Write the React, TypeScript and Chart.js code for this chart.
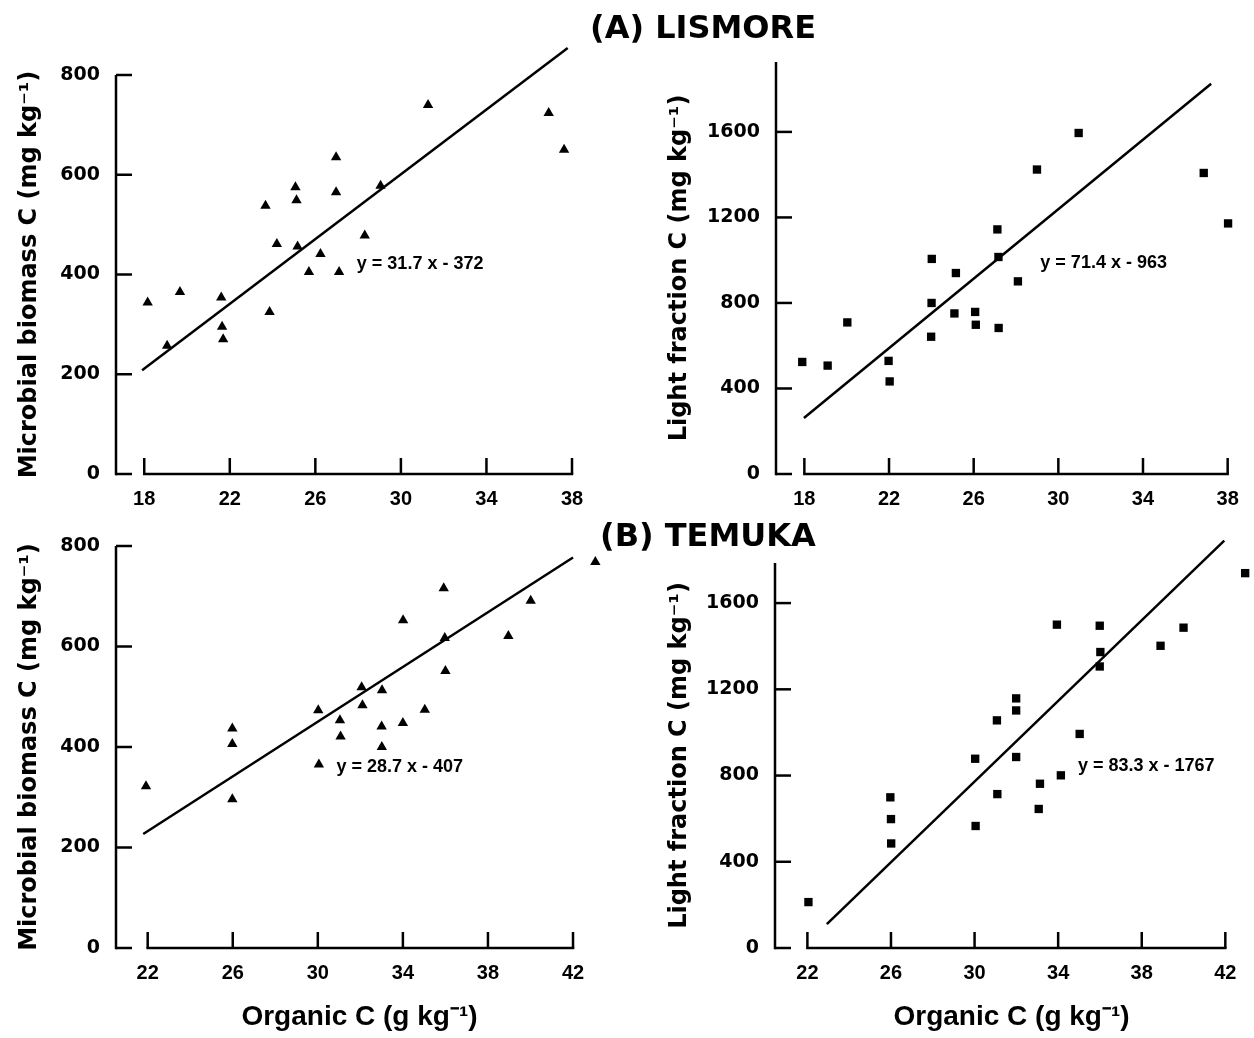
import React, { useEffect, useRef } from "react";
import { Chart, registerables } from "chart.js";

Chart.register(...registerables);

const PAGE_W = 1254;
const PAGE_H = 1038;

// ---------------- data ----------------
// (A) LISMORE – microbial biomass C vs organic C
const lisOrgC_MB = [18.16, 19.67, 19.07, 21.6, 21.64, 21.69, 23.67, 24.2, 23.86, 25.07, 25.12, 25.17, 25.7, 26.24, 26.97, 26.97, 27.11, 29.05, 28.31, 31.27, 36.91, 37.63];
const lisMB = [344, 365, 257, 354, 295, 270, 538, 461, 325, 575, 549, 456, 405, 441, 635, 565, 405, 578, 478, 740, 724, 650];
const lisMBFitX = [17.9, 37.8];
const lisMBFitY = [208, 854];

// (A) LISMORE – light fraction C vs organic C
const lisOrgC_LF = [17.9, 19.1, 20.03, 21.98, 22.03, 24.02, 24.01, 23.99, 25.16, 25.09, 26.07, 26.1, 27.12, 27.17, 27.18, 28.09, 28.99, 30.96, 36.87, 38.02];
const lisLF = [524, 507, 709, 529, 433, 1006, 800, 642, 940, 751, 758, 698, 1144, 1015, 683, 901, 1424, 1595, 1408, 1172];
const lisLFFitX = [17.98, 37.22];
const lisLFFitY = [262, 1825];

// (B) TEMUKA – microbial biomass C vs organic C
const temOrgC_MB = [21.92, 25.98, 25.98, 25.98, 30.02, 30.05, 31.04, 31.07, 32.06, 32.1, 33.02, 33.0, 33.01, 34.0, 34.01, 35.03, 35.92, 35.97, 36.0, 38.96, 40.01, 43.05];
const temMB = [322, 437, 406, 296, 473, 365, 453, 421, 519, 483, 513, 441, 400, 448, 652, 474, 716, 617, 551, 621, 691, 768];
const temMBFitX = [21.79, 42.0];
const temMBFitY = [227, 777];

// (B) TEMUKA – light fraction C vs organic C
const temOrgC_LF = [22.05, 25.97, 26.0, 26.01, 30.03, 30.05, 31.07, 31.09, 31.99, 31.99, 31.99, 33.13, 33.07, 33.94, 34.13, 35.03, 35.99, 36.02, 35.99, 38.9, 40.0, 42.95];
const temLF = [213, 699, 598, 485, 878, 566, 1056, 714, 1158, 1102, 886, 762, 645, 1500, 801, 993, 1495, 1373, 1306, 1402, 1486, 1739];
const temLFFitX = [22.93, 41.95];
const temLFFitY = [111, 1890];

// tick labels
const lisXTicks = [18, 22, 26, 30, 34, 38];
const temXTicks = [22, 26, 30, 34, 38, 42];
const mbYTicks = [0, 200, 400, 600, 800];
const lfYTicks = [0, 400, 800, 1200, 1600];

// equations (text + anchor in data units)
const eqTexts = ["y = 31.7 x - 372", "y = 71.4 x - 963", "y = 28.7 x - 407", "y = 83.3 x - 1767"];
const eqAnchorX = [27.94, 29.15, 30.88, 34.95];
const eqAnchorY = [421, 987, 360, 842];

const yTitleMB = "Microbial biomass C (mg kg\u207B\u00B9)";
const yTitleLF = "Light fraction C (mg kg\u207B\u00B9)";
const xTitle = "Organic C (g kg\u207B\u00B9)";

// ---------------- styling ----------------
const TICK_LEN = 16;
const AXIS_W = 2.5;
const WIDE = '"DejaVu Sans", Verdana, sans-serif';
const ARIAL = '"Liberation Sans", Arial, Helvetica, sans-serif';

type Panel = {
  xs: number[]; ys: number[]; fitX: number[]; fitY: number[];
  xTicks: number[]; yTicks: number[];
  xMin: number; xMax: number; yMax: number;
  marker: string; markerR: number;
  yTitle: string; xTitle: string | null;
  eq: number;
  area: { l: number; r: number; t: number; b: number };
  yBoxLeft: number;
};

const panels: Panel[] = [
  { xs: lisOrgC_MB, ys: lisMB, fitX: lisMBFitX, fitY: lisMBFitY, xTicks: lisXTicks, yTicks: mbYTicks,
    xMin: 16.68, xMax: 38, yMax: 800, marker: "triangle", markerR: 6, yTitle: yTitleMB, xTitle: null, eq: 0,
    area: { l: 116, r: 572, t: 75, b: 474 }, yBoxLeft: 0 },
  { xs: lisOrgC_LF, ys: lisLF, fitX: lisLFFitX, fitY: lisLFFitY, xTicks: lisXTicks, yTicks: lfYTicks,
    xMin: 16.66, xMax: 38.3, yMax: 1927, marker: "rect", markerR: 5.9, yTitle: yTitleLF, xTitle: null, eq: 1,
    area: { l: 776, r: 1234, t: 62, b: 474 }, yBoxLeft: 650 },
  { xs: temOrgC_MB, ys: temMB, fitX: temMBFitX, fitY: temMBFitY, xTicks: temXTicks, yTicks: mbYTicks,
    xMin: 20.51, xMax: 43.41, yMax: 800, marker: "triangle", markerR: 6, yTitle: yTitleMB, xTitle: xTitle, eq: 2,
    area: { l: 116, r: 603, t: 546, b: 948 }, yBoxLeft: 0 },
  { xs: temOrgC_LF, ys: temLF, fitX: temLFFitX, fitY: temLFFitY, xTicks: temXTicks, yTicks: lfYTicks,
    xMin: 20.45, xMax: 43.09, yMax: 1786, marker: "rect", markerR: 5.9, yTitle: yTitleLF, xTitle: xTitle, eq: 3,
    area: { l: 775, r: 1252, t: 563, b: 948 }, yBoxLeft: 650 },
];

const bracketAxes = {
  id: "bracketAxes",
  beforeDatasetsDraw(chart: any) {
    const { ctx, chartArea: ca, scales } = chart;
    const xs = scales.x;
    const ys = scales.y;
    ctx.save();
    ctx.strokeStyle = "#000";
    ctx.lineWidth = AXIS_W;
    ctx.lineCap = "butt";
    const seg = (x1: number, y1: number, x2: number, y2: number) => {
      ctx.beginPath();
      ctx.moveTo(x1, y1);
      ctx.lineTo(x2, y2);
      ctx.stroke();
    };
    const yBottom = ys.getPixelForValue(ys.ticks[0].value);
    seg(ca.left, yBottom + AXIS_W / 2, ca.left, ca.top);
    ys.ticks.forEach((t: any) => {
      const p = ys.getPixelForValue(t.value);
      seg(ca.left, p, ca.left + TICK_LEN, p);
    });
    const x0 = xs.getPixelForValue(xs.ticks[0].value);
    const x1 = xs.getPixelForValue(xs.ticks[xs.ticks.length - 1].value);
    seg(x0 - AXIS_W / 2, ca.bottom, x1 + AXIS_W / 2, ca.bottom);
    xs.ticks.forEach((t: any) => {
      const p = xs.getPixelForValue(t.value);
      seg(p, ca.bottom, p, ca.bottom - TICK_LEN);
    });
    ctx.restore();
  },
};

function makeEquation(idx: number) {
  return {
    id: "equation",
    afterDatasetsDraw(chart: any) {
      const { ctx, scales } = chart;
      ctx.save();
      ctx.font = `bold 18px ${ARIAL}`;
      ctx.fillStyle = "#000";
      ctx.textAlign = "left";
      ctx.textBaseline = "middle";
      ctx.fillText(eqTexts[idx], scales.x.getPixelForValue(eqAnchorX[idx]), scales.y.getPixelForValue(eqAnchorY[idx]));
      ctx.restore();
    },
  };
}

function PanelChart({ p }: { p: Panel }) {
  const ref = useRef<HTMLCanvasElement | null>(null);
  useEffect(() => {
    if (!ref.current) return;
    const xH = p.xTitle ? PAGE_H - p.area.b : 40;
    const yW = p.area.l - p.yBoxLeft;
    const chart = new Chart(ref.current, {
      type: "scatter",
      data: {
        datasets: [
          {
            data: p.xs.map((x, i) => ({ x, y: p.ys[i] })),
            pointStyle: p.marker as any,
            pointRadius: p.markerR,
            pointBackgroundColor: "#000",
            pointBorderColor: "#000",
            pointBorderWidth: 0,
            showLine: false,
            clip: false as any,
          },
          {
            data: p.fitX.map((x, i) => ({ x, y: p.fitY[i] })),
            showLine: true,
            borderColor: "#000",
            borderWidth: 2.5,
            pointRadius: 0,
            fill: false,
            clip: false as any,
          },
        ],
      },
      options: {
        responsive: false,
        animation: false,
        devicePixelRatio: 1,
        events: [],
        layout: {
          padding: {
            left: p.yBoxLeft,
            right: PAGE_W - p.area.r,
            top: p.area.t,
            bottom: PAGE_H - p.area.b - xH,
          },
        },
        plugins: { legend: { display: false }, tooltip: { enabled: false }, title: { display: false } },
        scales: {
          x: {
            type: "linear",
            position: "bottom",
            min: p.xMin,
            max: p.xMax,
            afterBuildTicks: (s: any) => { s.ticks = p.xTicks.map((v) => ({ value: v })); },
            afterFit: (s: any) => { s.height = xH; },
            grid: { display: false },
            border: { display: false },
            ticks: {
              autoSkip: false,
              maxRotation: 0,
              padding: 5,
              color: "#000",
              font: { family: ARIAL, size: 20, weight: "bold" },
              callback: (v: any) => String(v),
            },
            title: {
              display: !!p.xTitle,
              text: p.xTitle || "",
              color: "#000",
              font: { family: ARIAL, size: 28, weight: "bold" },
              padding: { top: 0, bottom: 4 },
            },
          },
          y: {
            type: "linear",
            position: "left",
            min: 0,
            max: p.yMax,
            afterBuildTicks: (s: any) => { s.ticks = p.yTicks.map((v) => ({ value: v })); },
            afterFit: (s: any) => { s.width = yW; },
            grid: { display: false },
            border: { display: false },
            ticks: {
              autoSkip: false,
              padding: 8,
              color: "#000",
              font: { family: WIDE, size: 19, weight: "bold" },
              callback: (v: any) => String(v),
            },
            title: {
              display: true,
              text: p.yTitle,
              color: "#000",
              font: { family: WIDE, size: 24, weight: "bold" },
              padding: { top: 15, bottom: 0 },
            },
          },
        },
      } as any,
      plugins: [bracketAxes, makeEquation(p.eq)],
    });
    return () => chart.destroy();
  }, [p]);
  return (
    <canvas
      ref={ref}
      width={PAGE_W}
      height={PAGE_H}
      style={{ position: "absolute", left: 0, top: 0, width: PAGE_W, height: PAGE_H }}
    />
  );
}

const titleStyle: React.CSSProperties = {
  position: "absolute",
  fontFamily: WIDE,
  fontWeight: "bold",
  fontSize: 32,
  lineHeight: "32px",
  whiteSpace: "nowrap",
  color: "#000",
};

export default function App() {
  return (
    <div style={{ position: "absolute", left: 0, top: 0, width: PAGE_W, height: PAGE_H, background: "#fff", overflow: "hidden" }}>
      {panels.map((p, i) => (
        <PanelChart key={i} p={p} />
      ))}
      <div style={{ ...titleStyle, left: 590, top: 11 }}>(A) LISMORE</div>
      <div style={{ ...titleStyle, left: 600, top: 519 }}>(B) TEMUKA</div>
    </div>
  );
}
